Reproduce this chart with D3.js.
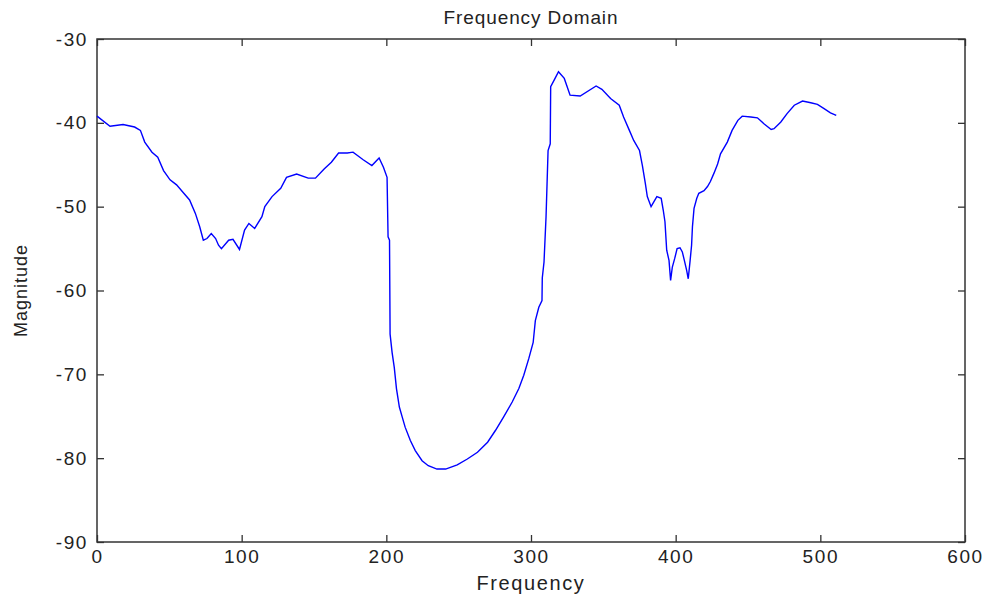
<!DOCTYPE html>
<html><head><meta charset="utf-8">
<script src="https://cdn.jsdelivr.net/npm/d3@7"></script>
<style>html,body{margin:0;padding:0;background:#fff;}svg{display:block;}</style>
</head><body>
<svg id="c" width="989" height="598"></svg>
<script>
const freq = [0, 9, 18, 26, 30, 33, 38, 42, 46, 50.5, 55, 60, 64, 68, 71, 73.5, 76, 79, 82, 84, 86, 91, 94, 98.5, 102, 105, 109, 114, 116, 121, 127, 131, 138, 146, 151, 157, 162, 167, 173, 177, 184, 190, 195, 198, 200.5, 201.2, 202.2, 202.6, 204, 205.5, 207, 209, 211, 213, 216.6, 220, 224.7, 229, 235, 241, 249, 256, 263, 270, 275.4, 281, 287, 291.6, 295, 298.5, 301.5, 303, 305.4, 307.6, 307.8, 309, 310.4, 311.8, 313.3, 313.6, 316, 319, 323, 325, 327, 334, 345, 349, 355, 361, 364, 368, 371, 375, 377, 379, 380.4, 383, 385, 387, 390, 391.4, 392.6, 393.8, 395.4, 396.5, 397.7, 399.3, 401, 403, 404.6, 406, 407.6, 408.7, 410, 411, 411.6, 412.7, 414.6, 416, 419.6, 422, 424, 426.5, 429, 431, 435.7, 439, 443, 446, 452, 456.5, 461, 466, 468, 472.7, 477, 482, 487.7, 493.4, 498, 502.6, 507, 511];
const magnitude = [-39.2, -40.4, -40.2, -40.5, -40.9, -42.3, -43.5, -44.1, -45.7, -46.8, -47.4, -48.4, -49.2, -50.8, -52.4, -54.0, -53.8, -53.2, -53.8, -54.6, -55.0, -54.0, -53.9, -55.1, -52.8, -52.0, -52.6, -51.2, -50.0, -48.8, -47.8, -46.5, -46.1, -46.6, -46.6, -45.5, -44.7, -43.6, -43.6, -43.5, -44.4, -45.1, -44.2, -45.3, -46.5, -53.6, -54.0, -65.2, -67.4, -69.2, -71.7, -73.9, -75.1, -76.3, -77.9, -79.1, -80.3, -80.9, -81.3, -81.3, -80.8, -80.1, -79.3, -78.1, -76.7, -75.1, -73.3, -71.7, -70.1, -68.1, -66.2, -63.6, -62.0, -61.2, -58.5, -56.6, -51.2, -43.3, -42.5, -35.7, -34.9, -33.9, -34.7, -35.7, -36.7, -36.8, -35.6, -36.0, -37.1, -37.9, -39.3, -40.9, -42.1, -43.3, -45.1, -47.2, -48.8, -50.0, -49.4, -48.8, -49.0, -50.4, -51.8, -55.2, -56.4, -58.8, -57.2, -56.2, -55.0, -54.9, -55.4, -56.4, -57.6, -58.6, -56.4, -54.6, -52.4, -50.2, -49.0, -48.4, -48.1, -47.6, -47.0, -46.0, -44.9, -43.7, -42.3, -40.9, -39.7, -39.2, -39.3, -39.4, -40.1, -40.8, -40.7, -39.9, -38.9, -37.9, -37.4, -37.6, -37.8, -38.3, -38.8, -39.1];
const xTicks = [0, 100, 200, 300, 400, 500, 600];
const yTicks = [-90, -80, -70, -60, -50, -40, -30];
const title = "Frequency Domain";
const xLabel = "Frequency";
const yLabel = "Magnitude";

const L = 97, R = 965, T = 39, B = 542;
const svg = d3.select("#c");
const x = d3.scaleLinear().domain([0, 600]).range([L, R]);
const y = d3.scaleLinear().domain([-90, -30]).range([B, T]);
const axisColor = "#333";
const font = "'Liberation Sans', Arial, sans-serif";
const fmt = d => String(d);

function styleAxis(g){
  g.select(".domain").remove();
  g.selectAll(".tick line").attr("stroke", axisColor).attr("stroke-width", 1.3);
  g.selectAll("text").attr("font-family", font).attr("font-size", 19).attr("fill", "#222").attr("letter-spacing", "1.6px");
}
svg.append("g").attr("transform", `translate(0,${B})`)
  .call(d3.axisBottom(x).tickValues(xTicks).tickFormat(fmt).tickSizeInner(-7).tickSizeOuter(0).tickPadding(8))
  .call(styleAxis);
svg.append("g").attr("transform", `translate(${L},0)`)
  .call(d3.axisLeft(y).tickValues(yTicks).tickFormat(fmt).tickSizeInner(-7).tickSizeOuter(0).tickPadding(9))
  .call(styleAxis);
svg.append("g").attr("transform", `translate(0,${T})`)
  .call(d3.axisTop(x).tickValues(xTicks).tickSizeInner(-7).tickSizeOuter(0).tickFormat(""))
  .call(styleAxis);
svg.append("g").attr("transform", `translate(${R},0)`)
  .call(d3.axisRight(y).tickValues(yTicks).tickSizeInner(-7).tickSizeOuter(0).tickFormat(""))
  .call(styleAxis);
svg.append("rect").attr("x", L).attr("y", T).attr("width", R - L).attr("height", B - T)
  .attr("fill", "none").attr("stroke", axisColor).attr("stroke-width", 1.5);

const data = freq.map((f, i) => [f, magnitude[i]]);
svg.append("path").datum(data)
  .attr("fill", "none").attr("stroke", "#0000ff").attr("stroke-width", 1.4)
  .attr("d", d3.line().x(d => x(d[0])).y(d => y(d[1])));

svg.append("text").attr("x", (L + R) / 2).attr("y", 24).attr("text-anchor", "middle")
  .attr("font-family", font).attr("font-size", 19).attr("letter-spacing", "0.9px").attr("fill", "#222").text(title);
svg.append("text").attr("x", (L + R) / 2).attr("y", 590).attr("text-anchor", "middle")
  .attr("font-family", font).attr("font-size", 20).attr("letter-spacing", "1.6px").attr("fill", "#222").text(xLabel);
svg.append("text").attr("transform", `translate(27,${(T + B) / 2}) rotate(-90)`).attr("text-anchor", "middle")
  .attr("font-family", font).attr("font-size", 18).attr("letter-spacing", "1px").attr("fill", "#222").text(yLabel);
</script>
</body></html>
